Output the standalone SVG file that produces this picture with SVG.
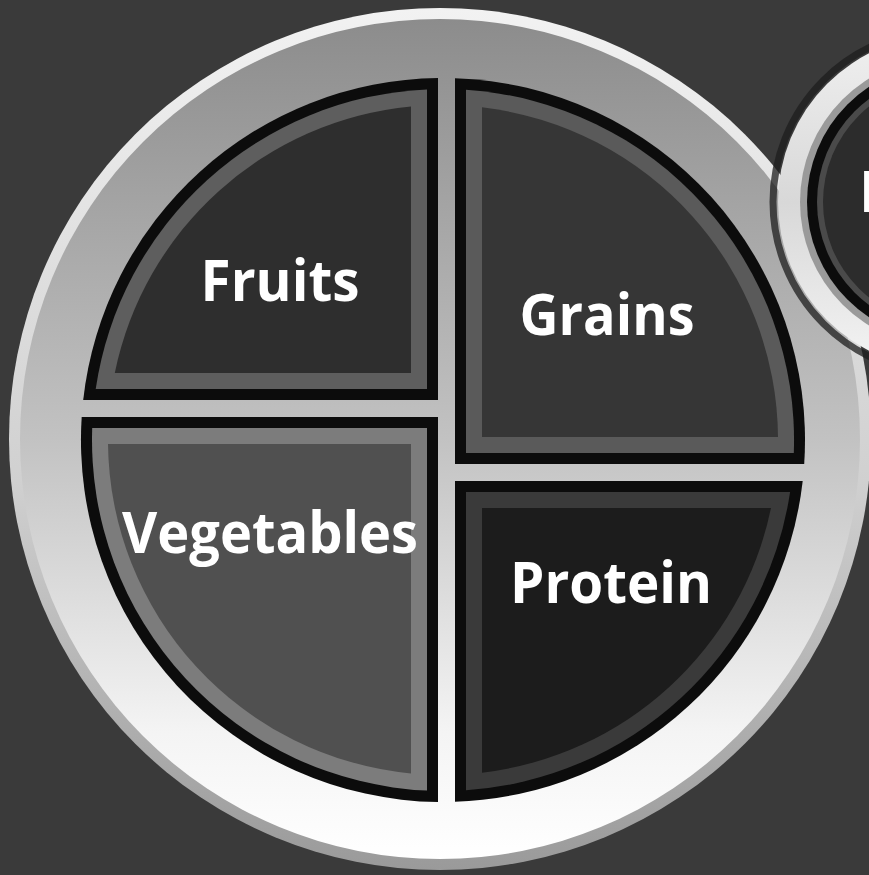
<svg xmlns="http://www.w3.org/2000/svg" width="869" height="875" viewBox="0 0 869 875">
  <defs>
    <linearGradient id="rimOuter" x1="0" y1="0" x2="0" y2="1">
      <stop offset="0" stop-color="#f2f2f2"/>
      <stop offset="0.55" stop-color="#d0d0d0"/>
      <stop offset="1" stop-color="#9a9a9a"/>
    </linearGradient>
    <linearGradient id="rimInner" x1="0" y1="0" x2="0" y2="1">
      <stop offset="0" stop-color="#8c8c8c"/>
      <stop offset="0.5" stop-color="#c2c2c2"/>
      <stop offset="0.85" stop-color="#f4f4f4"/>
      <stop offset="1" stop-color="#ffffff"/>
    </linearGradient>
    <linearGradient id="cupRim" x1="0" y1="0" x2="0" y2="1">
      <stop offset="0" stop-color="#f0f0f0"/>
      <stop offset="0.5" stop-color="#d8d8d8"/>
      <stop offset="1" stop-color="#f4f4f4"/>
    </linearGradient>
  </defs>
  <style>
    .edge { fill: #0c0c0c; }
    .label { font-family: "Open Sans", "Liberation Sans", sans-serif; font-weight: 700; font-size: 57px; fill: #ffffff; text-anchor: middle; }
  </style>

  <rect x="0" y="0" width="869" height="875" fill="#3a3a3a"/>

  <g id="plate">
    <circle cx="440" cy="439" r="431" fill="url(#rimOuter)"/>
    <circle cx="440" cy="439" r="420" fill="url(#rimInner)"/>
  </g>

  <g id="fruits">
    <path class="edge" d="M438,400 L83.2,400 A362 362 0 0 1 438,78 Z"/>
    <path fill="#5e5e5e" d="M427,389 L95.7,389 A351 351 0 0 1 427,89.4 Z"/>
    <path fill="#2e2e2e" d="M411,373 L114.8,373 A335 335 0 0 1 411,106.5 Z"/>
    <text class="label" x="280" y="301" textLength="159" lengthAdjust="spacingAndGlyphs">Fruits</text>
  </g>

  <g id="grains">
    <path class="edge" d="M455,464 L455,78.2 A362 362 0 0 1 804.2,464 Z"/>
    <path fill="#5a5a5a" d="M466,453 L466,89.8 A351 351 0 0 1 793.8,453 Z"/>
    <path fill="#363636" d="M482,437 L482,107.3 A335 335 0 0 1 778,437 Z"/>
    <text class="label" x="607" y="335" textLength="175" lengthAdjust="spacingAndGlyphs">Grains</text>
  </g>

  <g id="vegetables">
    <path class="edge" d="M438,417 L81.7,417 A362 362 0 0 0 438,802 Z"/>
    <path fill="#7c7c7c" d="M427,428 L92.2,428 A351 351 0 0 0 427,790.6 Z"/>
    <path fill="#505050" d="M411,444 L108,444 A335 335 0 0 0 411,773.5 Z"/>
    <text class="label" x="270" y="553" textLength="296" lengthAdjust="spacingAndGlyphs">Vegetables</text>
  </g>

  <g id="protein">
    <path class="edge" d="M455,481 L802.7,481 A362 362 0 0 1 455,801.8 Z"/>
    <path fill="#3a3a3a" d="M466,492 L790.1,492 A351 351 0 0 1 466,790.2 Z"/>
    <path fill="#1c1c1c" d="M482,508 L771,508 A335 335 0 0 1 482,772.7 Z"/>
    <text class="label" x="611" y="603" textLength="202" lengthAdjust="spacingAndGlyphs">Protein</text>
  </g>

  <g id="dairy">
    <circle cx="945" cy="202" r="172" fill="none" stroke="#1e1e1e" stroke-width="7" opacity="0.75"/>
    <circle cx="945" cy="202" r="167" fill="url(#cupRim)"/>
    <circle cx="945" cy="202" r="145" fill="#9a9a9a"/>
    <circle cx="945" cy="202" r="138" fill="#0c0c0c"/>
    <circle cx="945" cy="202" r="128" fill="#4a4a4a"/>
    <circle cx="945" cy="202" r="122" fill="#2c2c2c"/>
    <text class="label" x="859" y="212" style="text-anchor: start">Dairy</text>
  </g>
</svg>
